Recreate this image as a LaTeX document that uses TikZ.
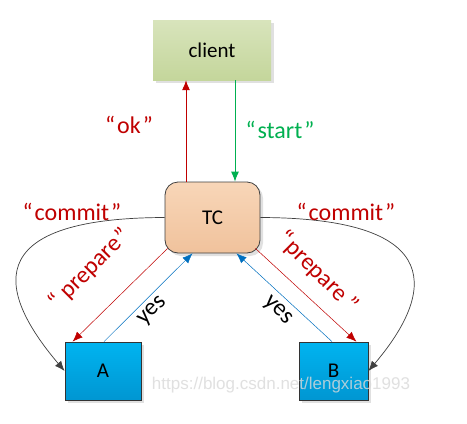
\documentclass[tikz,border=0pt]{standalone}
\usepackage{fontspec}
\setmainfont{Carlito}
\newfontfamily\markfont{Liberation Sans}
\usepackage{xcolor}
\usetikzlibrary{arrows.meta,shadows}
\definecolor{msgred}{HTML}{C00000}
\definecolor{msggreen}{HTML}{00B050}
\definecolor{msgblue}{HTML}{0070C0}
\definecolor{curvegray}{HTML}{404040}

\begin{document}
\begin{tikzpicture}[x=1pt,y=-1pt,
		box/.style={inner sep=0pt, font=\fontsize{21}{25}\selectfont,
			drop shadow={shadow xshift=3pt,shadow yshift=-3pt,fill=black!12,opacity=1}},
		label/.style={inner sep=0pt, font=\fontsize{24}{28}\selectfont},
		tip/.style={-{Latex[length=10pt,width=8pt]}}]
		\useasboundingbox[fill=white] (0,0) rectangle (467,424);

		\node[box, minimum width=118pt, minimum height=60pt, draw=none,
			top color={rgb,255:red,216;green,228;blue,188}, bottom color={rgb,255:red,196;green,214;blue,155}] (client) at (212,50) {client};
		\node[box, minimum width=95pt, minimum height=71pt, rounded corners=13pt, draw=curvegray, line width=0.8pt,
			top color={rgb,255:red,248;green,214;blue,184}, bottom color={rgb,255:red,240;green,194;blue,156}] (TC) at (212.5,217.5) {TC};
		\node[box, minimum width=76pt, minimum height=58pt, draw=black!80, line width=0.8pt,
			top color={rgb,255:red,0;green,180;blue,240}, bottom color={rgb,255:red,0;green,150;blue,210}] (A) at (103,371) {A};
		\node[box, minimum width=69pt, minimum height=58pt, draw=black!80, line width=0.8pt,
			top color={rgb,255:red,0;green,180;blue,240}, bottom color={rgb,255:red,0;green,150;blue,210}] (B) at (333.5,371) {B};

		\coordinate (OkX)    at (186,0);
		\coordinate (StartX) at (235,0);
		\draw [tip, msgred, line width=0.9pt] (TC.north -| OkX) -- (client.south -| OkX);% answer to client
		\draw [tip, msggreen, line width=0.9pt] (client.south -| StartX) -- (TC.north -| StartX);% request from client

		\draw [tip, msgred, line width=0.5pt] ([shift={(3,-5)}]TC.south west) -- ([xshift=8pt]A.north west);
		\draw [tip, msgblue, line width=0.5pt] ([xshift=1pt]A.north) -- ([xshift=-20pt]TC.south);
		\draw [tip, msgblue, line width=0.5pt] ([xshift=-1.5pt]B.north) -- ([xshift=24pt]TC.south);
		\draw [tip, msgred, line width=0.5pt] ([shift={(-5,-5)}]TC.south east) -- ([xshift=-12pt]B.north east);

		\draw [tip, curvegray, line width=0.7pt] (TC.west) .. controls (-25,218) and (0,295) .. (A.west);% commit to A
		\draw [tip, curvegray, line width=0.7pt] (TC.east) .. controls (450,218) and (433,295) .. (B.east);% commit to B

		\node[label, msgred]   (OkText)      at (129,125) {“\kern2pt ok\kern2pt ”};
		\node[label, msggreen] (StartText)   at (280,130) {“\kern2pt start\kern2pt ”};
		\node[label, msgred]   (CommitA)     at (72,212)  {“\kern2pt commit\kern2pt ”};
		\node[label, msgred]   (CommitB)     at (346,212) {“\kern2pt commit\kern2pt ”};
		\node[label, msgred, rotate=45]  (PrepareA) at (90,269)  {“\ prepare\kern2pt ”};
		\node[label, msgred, rotate=-45] (PrepareB) at (318,272) {“\kern2pt prepare\ ”};
		\node[label, rotate=45]  (YesA) at (153,311) {yes};
		\node[label, rotate=-45] (YesB) at (278,311) {yes};

		\node[inner sep=0pt, font=\markfont\fontsize{17}{20}\selectfont, black!15, opacity=0.8] (Mark) at (281,385) {https://blog.csdn.net/lengxiao1993};
	\end{tikzpicture}
\end{document}
